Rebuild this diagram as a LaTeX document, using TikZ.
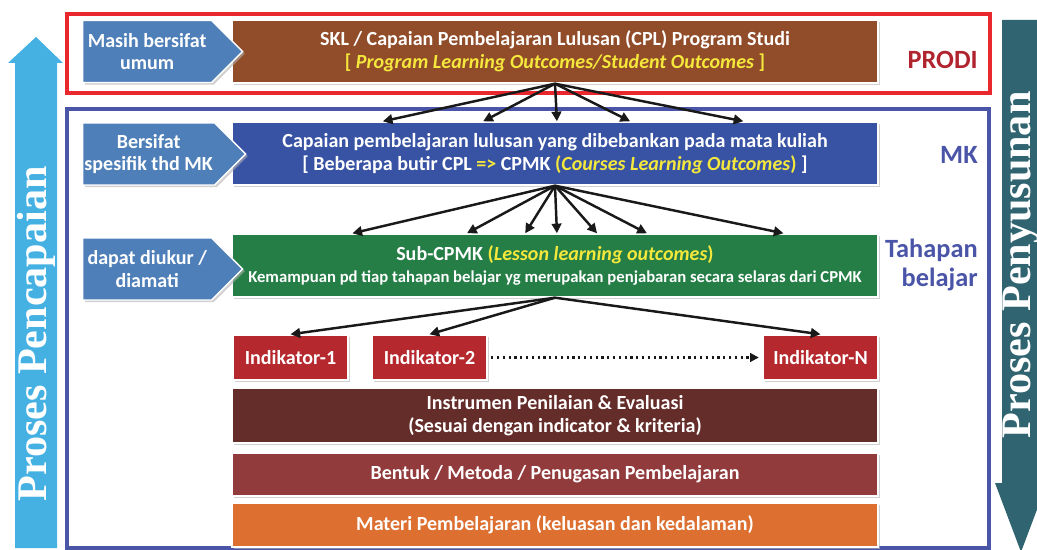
\documentclass[tikz,border=0pt]{standalone}
\usepackage{fontspec}
\setmainfont{Carlito}
\newfontfamily\procfont{Liberation Serif}
\usepackage{xcolor}
\usetikzlibrary{positioning,arrows.meta,shapes.symbols,shadows,calc}
\definecolor{framered}{RGB}{232,40,46}
\definecolor{frameblue}{RGB}{74,85,168}
\definecolor{hintblue}{RGB}{79,127,184}
\definecolor{cplbrown}{RGB}{145,76,42}
\definecolor{cpmkblue}{RGB}{56,83,164}
\definecolor{subgreen}{RGB}{36,126,70}
\definecolor{indred}{RGB}{181,40,46}
\definecolor{instbrown}{RGB}{101,45,42}
\definecolor{formred}{RGB}{146,59,61}
\definecolor{matorange}{RGB}{221,111,48}
\definecolor{hlyellow}{RGB}{245,232,60}
\definecolor{prodilbl}{RGB}{176,36,48}
\definecolor{upblue}{RGB}{69,177,227}
\definecolor{downteal}{RGB}{47,100,112}
\tikzset{
  boxshadow/.style = {drop shadow={shadow xshift=1.2pt, shadow yshift=-1.2pt,
                      fill=black!30, opacity=.6}},
  hintnode/.style  = {signal, signal to=east, signal pointer angle=90,
                      minimum width=3.2cm, minimum height=1.24cm, inner sep=1pt,
                      fill=hintblue, draw=white, thick, boxshadow, text=white,
                      align=center, font=\bfseries\fontsize{11.4}{13}\selectfont},
  levelnode/.style = {rectangle, minimum width=12.92cm, inner sep=1pt,
                      draw=white, thick, boxshadow, text=white, align=center,
                      font=\bfseries\fontsize{11.4}{12.8}\selectfont},
  indnode/.style   = {rectangle, minimum width=2.3cm, minimum height=0.9cm,
                      fill=indred, draw=white, thick, boxshadow, text=white,
                      font=\bfseries\fontsize{11.4}{13}\selectfont},
  flowedge/.style  = {-{Triangle[length=5.5pt,width=5.5pt]}, line width=1.4pt,
                      black!90},
  dotedge/.style   = {-{Triangle[length=5pt,width=5pt]}, line width=1.3pt,
                      dotted, black!90},
  sidelbl/.style   = {anchor=east, align=right, inner sep=0pt,
                      font=\bfseries\fontsize{15}{17}\selectfont},
  proclbl/.style   = {rotate=90, text=white, inner sep=0pt,
                      font=\procfont\bfseries\fontsize{24}{26}\selectfont}
}
\newcommand{\hl}[1]{\textcolor{hlyellow}{#1}}

\begin{document}
\begin{tikzpicture}[x=0.02cm, y=-0.02cm]
  \useasboundingbox (0,0) rectangle (1037,550);
  % ---- side process arrows ----
  \fill[upblue]   (15,548) -- (15,63) -- (8,63) -- (36,37) -- (63,63)
                  -- (57,63) -- (57,548) -- cycle;
  \fill[downteal] (1002,20) -- (1002,483) -- (995,483) -- (1021,552)
                  -- (1047,483) -- (1040,483) -- (1040,20) -- cycle;
  \node[proclbl] (pcap) at (36,334)   {Proses Pencapaian};
  \node[proclbl] (psus) at (1021,265) {Proses Penyusunan};
  % ---- frames ----
  \draw[framered,  line width=2.3pt] (67,14)  rectangle (990,93);
  \draw[frameblue, line width=2.3pt] (67,109) rectangle (989,548);
  % ---- level boxes ----
  \node[levelnode, fill=cplbrown, minimum height=1.26cm] (cpl) at (555,51.5)
    {SKL / Capaian Pembelajaran Lulusan (CPL) Program Studi\\
     \hl{{[} \textit{Program Learning Outcomes/Student Outcomes} ]}};
  \node[levelnode, fill=cpmkblue, minimum height=1.26cm] (cpmk) at (555,153.5)
    {Capaian pembelajaran lulusan yang dibebankan pada mata kuliah\\
     {[} Beberapa butir CPL \hl{=>} CPMK \hl{(\textit{Courses Learning Outcomes})} ]};
  \node[levelnode, fill=subgreen, minimum height=1.26cm] (subcpmk) at (555,265.5)
    {Sub-CPMK \hl{(\textit{Lesson learning outcomes})}\\
     {\fontsize{9.5}{11}\selectfont Kemampuan pd tiap tahapan belajar yg merupakan
      penjabaran secara selaras dari CPMK}};
  % Indikator row
  \node[indnode] (ind1) at (290.5,357.5) {Indikator-1};
  \node[indnode] (ind2) at (429.5,357.5) {Indikator-2};
  \node[indnode] (indN) at (820.5,357.5) {Indikator-N};
  % stacked boxes below
  \node[levelnode, fill=instbrown, minimum height=1.1cm] (instr) at (555,415.5)
    {Instrumen Penilaian \& Evaluasi\\(Sesuai dengan indicator \& kriteria)};
  \node[levelnode, fill=formred, minimum height=0.86cm] (form) at (555,474.5)
    {Bentuk / Metoda / Penugasan Pembelajaran};
  \node[levelnode, fill=matorange, minimum height=0.88cm] (mat) at (555,525)
    {Materi Pembelajaran (keluasan dan kedalaman)};
  % ---- hint chevrons ----
  \node[hintnode, anchor=west] (hint1) at (82,51.5) {Masih bersifat\\umum};
  \node[hintnode, anchor=west] (hint2) at (82,154)  {Bersifat\\spesifik thd MK};
  \node[hintnode, anchor=west] (hint3) at (82,269)  {dapat diukur /\\diamati};
  % ---- level labels ----
  \node[sidelbl, text=prodilbl]  (lprodi) at (978,60)  {PRODI};
  \node[sidelbl, text=frameblue] (lmk)    at (978,155) {MK};
  \node[sidelbl, text=frameblue] (ltah)   at (978,265) {Tahapan\\belajar};
  % ---- edges ----
  \foreach \f in {0.234,0.389,0.503,0.616,0.791}
    \draw[flowedge] (cpl.south) -- ($(cpmk.north west)!\f!(cpmk.north east)$);
  \foreach \f in {0.187,0.364,0.454,0.503,0.565,0.642,0.853}
    \draw[flowedge] (cpmk.south) -- ($(subcpmk.north west)!\f!(subcpmk.north east)$);
  \draw[flowedge] (subcpmk.south) -- (ind1.north);
  \draw[flowedge] (subcpmk.south) -- (ind2.north);
  \draw[flowedge] (subcpmk.south) -- (indN.north);
  \draw[dotedge, shorten <=2pt, shorten >=2pt] (ind2) -- (indN);
\end{tikzpicture}
\end{document}
